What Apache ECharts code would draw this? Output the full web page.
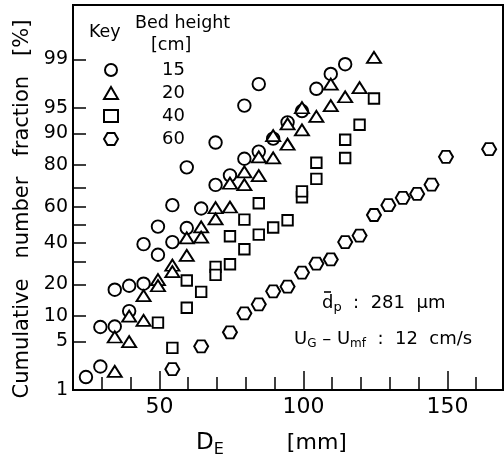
<!DOCTYPE html>
<html>
<head>
<meta charset="utf-8">
<script src="https://cdn.jsdelivr.net/npm/echarts@6/dist/echarts.min.js"></script>
<style>
  html, body { margin: 0; padding: 0; background: #fff; }
  #draw { width: 504px; height: 463px; }
</style>
</head>
<body>
<div id="draw"></div>
<script>
// bed height key -> [D_E mm, cumulative number fraction %]
var bedNames = ['15', '20', '40', '60'];

var bed15 = [[24.5, 1.6], [29.5, 2.3], [29.5, 7.5], [34.5, 7.6], [34.5, 18], [39.5, 19.5], [39.5, 11.2],
	[44.5, 20.3], [44.5, 39.2], [49.5, 33.6], [49.5, 48.9], [54.5, 40.3], [54.5, 60.8], [59.5, 48.1],
	[59.5, 79], [64.5, 59], [69.5, 71.2], [69.5, 87.6], [74.5, 75.6], [79.5, 82.3], [79.5, 95.3],
	[84.5, 84.8], [84.5, 97.6], [89.5, 88.7], [94.5, 92.5], [99.5, 94.5], [104.5, 97.2], [109.5, 98.3],
	[114.5, 98.8]];

var bed20 = [[34.5, 1.95], [34.5, 5.7], [39.5, 5.0], [39.5, 9.9], [44.5, 8.9], [44.5, 15.9], [49.5, 22],
	[49.5, 19.5], [54.5, 28.4], [54.5, 25.4], [59.5, 33.3], [59.5, 42.6], [64.5, 48.8], [64.5, 43],
	[69.5, 59.4], [69.5, 53.2], [74.5, 59.8], [74.5, 72], [79.5, 71.3], [79.5, 77.1], [84.5, 75.5],
	[84.5, 83], [89.5, 82.6], [89.5, 89.5], [94.5, 87.1], [94.5, 92.2], [99.5, 90.9], [99.5, 95],
	[104.5, 93.6], [109.5, 95.3], [109.5, 97.6], [114.5, 96.4], [119.5, 97.3], [124.5, 99.07]];

var bed40 = [[49.5, 8.4], [54.5, 4.15], [59.5, 12.1], [59.5, 21.6], [64.5, 17.2], [69.5, 27.6], [69.5, 24],
	[74.5, 28.9], [74.5, 43.5], [79.5, 36.5], [79.5, 52.8], [84.5, 44.4], [84.5, 61.8], [89.5, 48.4],
	[94.5, 52.5], [99.5, 65], [99.5, 68], [104.5, 74], [104.5, 80.8], [114.5, 82.6], [114.5, 88.4],
	[119.5, 92], [124.5, 96.2]];

var bed60 = [[54.5, 2.1], [64.5, 4.35], [74.5, 6.5], [79.5, 10.6], [84.5, 13.1], [89.5, 17.4], [94.5, 19.2],
	[99.5, 25], [104.5, 29.2], [109.5, 31.2], [114.5, 40.3], [119.5, 43.9], [124.5, 55.4], [129.5, 60.8],
	[134.5, 64.7], [139.5, 66.7], [144.5, 71.3], [149.5, 83], [164.5, 85.6]];

// axis ticks
var xLabels = [50, 100, 150];
var xMinorTicks = [30, 40, 60, 70, 80, 90, 110, 120, 130, 140, 160];
var yLabels = [1, 5, 10, 20, 40, 60, 80, 90, 95, 99];
var yTicks = [1, 5, 10, 20, 30, 40, 50, 60, 70, 80, 90, 95, 99];

// inverse normal cdf (Acklam), for the probability scale
function probit(pc) {
	var p = pc / 100;
	var a = [-3.969683028665376e+01, 2.209460984245205e+02, -2.759285104469687e+02, 1.383577518672690e+02, -3.066479806614716e+01, 2.506628277459239e+00];
	var b = [-5.447609879822406e+01, 1.615858368580409e+02, -1.556989798598866e+02, 6.680131188771972e+01, -1.328068155288572e+01];
	var c = [-7.784894002430293e-03, -3.223964580411365e-01, -2.400758277161838e+00, -2.549671660721643e+00, 4.374664141464968e+00, 2.938163982698783e+00];
	var d = [7.784695709041462e-03, 3.224671290700398e-01, 2.445134137142996e+00, 3.754408661907416e+00];
	var pl = 0.02425, q, r;
	if (p < pl) {
		q = Math.sqrt(-2 * Math.log(p));
		return (((((c[0] * q + c[1]) * q + c[2]) * q + c[3]) * q + c[4]) * q + c[5]) / ((((d[0] * q + d[1]) * q + d[2]) * q + d[3]) * q + 1);
	}
	if (p > 1 - pl) {
		q = Math.sqrt(-2 * Math.log(1 - p));
		return -(((((c[0] * q + c[1]) * q + c[2]) * q + c[3]) * q + c[4]) * q + c[5]) / ((((d[0] * q + d[1]) * q + d[2]) * q + d[3]) * q + 1);
	}
	q = p - 0.5;
	r = q * q;
	return (((((a[0] * r + a[1]) * r + a[2]) * r + a[3]) * r + a[4]) * r + a[5]) * q / (((((b[0] * r + b[1]) * r + b[2]) * r + b[3]) * r + b[4]) * r + 1);
}

function toPlot(arr) {
	return arr.map(function(pt) {
		return [pt[0], probit(pt[1])];
	});
}

var FONT = 'DejaVu Sans';
var hexagon = 'path://M0,6 L3.5,0 L10.5,0 L14,6 L10.5,12 L3.5,12 Z';

var myChart = echarts.init(document.getElementById('draw'));

var markStyle = {
	color : '#fff',
	borderColor : '#000',
	borderWidth : 1.9,
	opacity : 1
};

function label(txt, x, y, size) {
	return {
		type : 'text',
		left : x,
		top : y,
		style : { text : txt, fontFamily : FONT, fontSize : size, fill : '#000' }
	};
}

option = {
	animation : false,
	backgroundColor : '#fff',
	grid : {
		left : 73,
		right : 1,
		top : 5,
		bottom : 68,
		show : true,
		borderColor : '#000',
		borderWidth : 2
	},
	legend : {
		data : bedNames,
		orient : 'vertical',
		left : 98,
		top : 56,
		itemWidth : 14,
		itemHeight : 12,
		itemGap : 5,
		textStyle : {
			fontFamily : FONT,
			fontSize : 18,
			lineHeight : 18,
			color : '#000',
			padding : [0, 0, 0, 39]
		},
		selectedMode : false
	},
	graphic : [
		label('Key', 89, 23, 17.5),
		label('Bed height', 135, 14, 17.5),
		label('[cm]', 151, 36, 17.5),
		{
			type : 'text',
			left : 322,
			top : 294,
			style : {
				text : '{n|d}{s|p}{n|  :  281  \u03bcm}',
				rich : {
					n : { fontFamily : FONT, fontSize : 18, fill : '#000' },
					s : { fontFamily : FONT, fontSize : 13, fill : '#000', padding : [10, 0, 0, 0] }
				}
			}
		}, {
			// bar over d
			type : 'line',
			shape : { x1 : 324, y1 : 292, x2 : 331, y2 : 292 },
			style : { stroke : '#000', lineWidth : 1.6 }
		}, {
			type : 'text',
			left : 294,
			top : 330,
			style : {
				text : '{n|U}{s|G}{n| \u2013 U}{s|mf}{n|  :  12  cm/s}',
				rich : {
					n : { fontFamily : FONT, fontSize : 18, fill : '#000' },
					s : { fontFamily : FONT, fontSize : 12, fill : '#000', padding : [10, 0, 0, 0] }
				}
			}
		}
	],
	xAxis : [ {
		type : 'value',
		min : 20,
		max : 169.3,
		name : '{d|D}{e|E}{m|         [mm]}',
		nameLocation : 'middle',
		nameGap : 38,
		nameTextStyle : {
			padding : [0, 33, 0, 0],
			rich : {
				d : { fontFamily : FONT, fontSize : 23, color : '#000' },
				e : { fontFamily : FONT, fontSize : 16, color : '#000', padding : [14, 0, 0, 0] },
				m : { fontFamily : FONT, fontSize : 22, color : '#000' }
			}
		},
		splitLine : { show : false },
		axisLine : { onZero : false, lineStyle : { color : '#000', width : 2 } },
		axisTick : {
			inside : true,
			length : 19,
			customValues : xLabels,
			lineStyle : { color : '#000', width : 1.5 }
		},
		axisLabel : {
			customValues : xLabels,
			fontFamily : FONT,
			fontSize : 22,
			color : '#000',
			margin : 6
		}
	}, {
		type : 'value',
		min : 20,
		max : 169.3,
		position : 'bottom',
		splitLine : { show : false },
		axisLine : { show : false, onZero : false },
		axisTick : {
			inside : true,
			length : 13,
			customValues : xMinorTicks,
			lineStyle : { color : '#000', width : 1.5 }
		},
		axisLabel : { show : false }
	} ],
	yAxis : {
		type : 'value',
		min : probit(1),
		max : probit(99.9),
		name : 'Cumulative   number   fraction   [%]',
		nameLocation : 'middle',
		nameRotate : 90,
		nameGap : 40,
		nameTextStyle : {
			fontFamily : FONT,
			fontSize : 21,
			color : '#000',
			padding : [0, 23, 0, 0]
		},
		splitLine : { show : false },
		axisLine : { show : true, lineStyle : { color : '#000', width : 2 } },
		axisTick : {
			show : true,
			inside : true,
			length : 13,
			customValues : yTicks.map(probit),
			lineStyle : { color : '#000', width : 1.5 }
		},
		axisLabel : {
			customValues : yLabels.map(probit),
			fontFamily : FONT,
			fontSize : 19,
			color : '#000',
			margin : 5,
			formatter : function(v) {
				var best = yLabels[0];
				yLabels.forEach(function(l) {
					if (Math.abs(probit(l) - v) < Math.abs(probit(best) - v)) {
						best = l;
					}
				});
				return String(best);
			}
		}
	},
	series : [ {
		name : '15',
		type : 'scatter',
		symbol : 'circle',
		symbolSize : 12.5,
		itemStyle : markStyle,
		data : toPlot(bed15)
	}, {
		name : '20',
		type : 'scatter',
		symbol : 'triangle',
		symbolSize : [14, 11],
		itemStyle : markStyle,
		data : toPlot(bed20)
	}, {
		name : '40',
		type : 'scatter',
		symbol : 'rect',
		symbolSize : 10.5,
		itemStyle : markStyle,
		data : toPlot(bed40)
	}, {
		name : '60',
		type : 'scatter',
		symbol : hexagon,
		symbolSize : [14, 12],
		itemStyle : markStyle,
		data : toPlot(bed60)
	} ]
};
myChart.setOption(option);
</script>
</body>
</html>
